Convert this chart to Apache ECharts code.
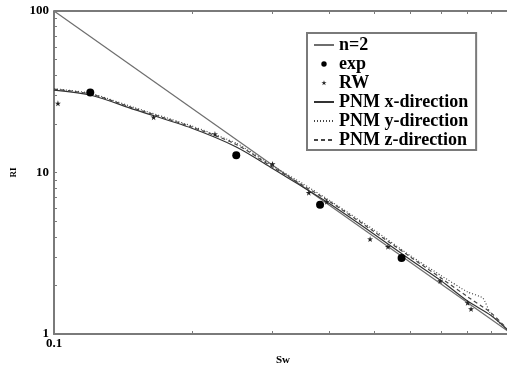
<!DOCTYPE html>
<html>
<head>
<meta charset="utf-8">
<script src="https://cdn.jsdelivr.net/npm/echarts@6/dist/echarts.min.js"></script>
<style>
  html, body { margin: 0; padding: 0; background: #fff; }
  #chart { width: 507px; height: 366px; }
</style>
</head>
<body>
<div id="chart"></div>
<script>
// Sw grid for PNM curves
var sw = [0.1, 0.12, 0.15, 0.2, 0.25, 0.3, 0.35, 0.4, 0.5, 0.6, 0.7, 0.8, 0.9, 1.0];
var pnmX = [32.4, 30.2, 24.5, 18.8, 14.4, 10.6, 8.1, 6.4, 4.15, 2.88, 2.14, 1.6, 1.3, 1.0];
var pnmZ = [32.8, 30.6, 24.9, 19.1, 14.9, 10.8, 8.3, 6.6, 4.3, 3.0, 2.22, 1.7, 1.35, 1.0];
var swY = [0.1, 0.12, 0.15, 0.2, 0.25, 0.3, 0.35, 0.4, 0.5, 0.6, 0.7, 0.8, 0.864, 0.9, 1.0];
var pnmY = [33.0, 31.0, 25.2, 19.4, 15.2, 11.0, 8.5, 6.7, 4.4, 3.05, 2.3, 1.82, 1.67, 1.32, 1.0];

// n=2 (Archie line) end points
var archieSw = [0.1, 1.0];
var archieRI = [100, 1];

// experiment
var expSw = [0.12, 0.25, 0.381, 0.574];
var expRI = [31.3, 12.8, 6.32, 2.96];

// random walk
var rwSw = [0.102, 0.165, 0.2246, 0.30, 0.36, 0.394, 0.49, 0.536, 0.697, 0.80, 0.814];
var rwRI = [26.8, 22.0, 17.3, 11.3, 7.5, 6.6, 3.87, 3.47, 2.13, 1.56, 1.43];

// tick positions
var xTicks = [0.2, 0.3, 0.4, 0.5, 0.6, 0.7, 0.8, 0.9];
var yTicks = [2, 3, 4, 5, 6, 7, 8, 9, 10, 20, 30, 40, 50, 60, 70, 80, 90];
var xLabels = [0.1];
var yLabels = [1, 10, 100];
var yTop = 100;

function pairs(xs, ys) {
    var out = [];
    for (var i = 0; i < xs.length; i++) out.push([xs[i], ys[i]]);
    return out;
}
function logs(arr) {
    return arr.map(function (v) { return Math.log10(v); });
}

var serif = "'Liberation Serif', 'Times New Roman', serif";
var axisGray = '#7a7a7a';
var dotIcon = 'path://M0,0L0.01,0M20,20L20.01,20M7,10a3,3 0 1,0 6,0a3,3 0 1,0 -6,0Z';
var starIcon = 'path://M0,0L0.01,0M20,20L20.01,20M10,7L10.7,9.1L12.9,9.1L11.1,10.4L11.8,12.5L10,11.2L8.2,12.5L8.9,10.4L7.1,9.1L9.3,9.1Z';
var starSymbol = 'path://M0,-1L0.22,-0.3L0.95,-0.31L0.36,0.12L0.59,0.81L0,0.38L-0.59,0.81L-0.36,0.12L-0.95,-0.31L-0.22,-0.3Z';

var myChart = echarts.init(document.getElementById('chart'));

// grid 0 holds the data (log axes), grid 1 the same box for the minor ticks
var plotGrid = { left: 54, right: -5, top: 11, bottom: 32, containLabel: false, outerBoundsMode: 'none' };
var tickGrid = { left: 54, right: -5, top: 11, bottom: 32, containLabel: false, outerBoundsMode: 'none' };

var tickX = {
    type: 'value',
    min: -1,
    max: 0,
    gridIndex: 1,
    axisLine: { show: false, onZero: false },
    axisTick: { inside: true, length: 3, customValues: logs(xTicks), lineStyle: { color: axisGray, width: 1 } },
    axisLabel: { show: false },
    splitLine: { show: false }
};

var option = {
    animation: false,
    backgroundColor: '#fff',
    grid: [plotGrid, tickGrid],
    legend: {
        orient: 'vertical',
        left: 307,
        top: 33,
        padding: [3, 8, 1, 6],
        itemGap: 1,
        itemWidth: 20,
        itemHeight: 18,
        borderColor: axisGray,
        borderWidth: 2,
        backgroundColor: '#fff',
        textStyle: { fontFamily: serif, fontSize: 18, fontWeight: 'bold', color: '#000', lineHeight: 18 },
        data: [
            { name: 'n=2', itemStyle: { opacity: 0 } },
            { name: 'exp', icon: dotIcon },
            { name: 'RW', icon: starIcon },
            { name: 'PNM x-direction', itemStyle: { opacity: 0 } },
            { name: 'PNM y-direction', itemStyle: { opacity: 0 } },
            { name: 'PNM z-direction', itemStyle: { opacity: 0 } }
        ]
    },
    xAxis: [{
        type: 'log',
        logBase: 10,
        min: 0.1,
        max: 1,
        gridIndex: 0,
        position: 'bottom',
        name: 'Sw',
        nameLocation: 'middle',
        nameGap: 20,
        nameTextStyle: { fontFamily: serif, fontSize: 11, fontWeight: 'bold', color: '#000' },
        axisLine: { onZero: false, lineStyle: { color: axisGray, width: 2 } },
        axisTick: { show: false },
        axisLabel: {
            customValues: xLabels,
            margin: 3,
            fontFamily: serif,
            fontSize: 13,
            fontWeight: 'bold',
            color: '#000'
        },
        splitLine: { show: false }
    },
        Object.assign({}, tickX, { position: 'bottom' }),
        Object.assign({}, tickX, { position: 'top' })
    ],
    yAxis: [{
        type: 'log',
        logBase: 10,
        min: 1,
        max: 100,
        gridIndex: 0,
        name: 'RI',
        nameLocation: 'middle',
        nameGap: 28,
        nameTextStyle: { fontFamily: serif, fontSize: 9, fontWeight: 'bold', color: '#000' },
        axisLine: { onZero: false, lineStyle: { color: axisGray, width: 2 } },
        axisTick: { show: false },
        axisLabel: {
            customValues: yLabels,
            margin: 5,
            fontFamily: serif,
            fontSize: 13,
            fontWeight: 'bold',
            color: '#000'
        },
        splitLine: { show: false }
    }, {
        type: 'value',
        min: 0,
        max: 2,
        gridIndex: 1,
        position: 'left',
        axisLine: { show: false, onZero: false },
        axisTick: { inside: true, length: 3, customValues: logs(yTicks), lineStyle: { color: axisGray, width: 1 } },
        axisLabel: { show: false },
        splitLine: { show: false }
    }],
    series: [{
        name: 'n=2',
        type: 'line',
        symbol: 'none',
        lineStyle: { color: '#6e6e6e', width: 1.2 },
        itemStyle: { color: '#6e6e6e' },
        data: pairs(archieSw, archieRI),
        // top frame of the plot box
        markLine: {
            silent: true,
            symbol: 'none',
            label: { show: false },
            lineStyle: { color: axisGray, width: 2, type: 'solid' },
            data: [{ yAxis: yTop }]
        }
    }, {
        name: 'PNM x-direction',
        type: 'line',
        symbol: 'none',
        smooth: 0.3,
        lineStyle: { color: '#333', width: 1.2 },
        itemStyle: { color: '#333' },
        data: pairs(sw, pnmX)
    }, {
        name: 'PNM y-direction',
        type: 'line',
        symbol: 'none',
        smooth: 0.15,
        lineStyle: { color: '#444', width: 1.2, type: [1, 2] },
        itemStyle: { color: '#444' },
        data: pairs(swY, pnmY)
    }, {
        name: 'PNM z-direction',
        type: 'line',
        symbol: 'none',
        smooth: 0.3,
        lineStyle: { color: '#444', width: 1.2, type: [4, 3] },
        itemStyle: { color: '#444' },
        data: pairs(sw, pnmZ)
    }, {
        name: 'exp',
        type: 'scatter',
        symbol: 'circle',
        symbolSize: 8,
        itemStyle: { color: '#000', opacity: 1 },
        z: 5,
        data: pairs(expSw, expRI)
    }, {
        name: 'RW',
        type: 'scatter',
        symbol: starSymbol,
        symbolSize: 6,
        itemStyle: { color: '#222', opacity: 1 },
        z: 5,
        data: pairs(rwSw, rwRI)
    }]
};

myChart.setOption(option);
</script>
</body>
</html>
